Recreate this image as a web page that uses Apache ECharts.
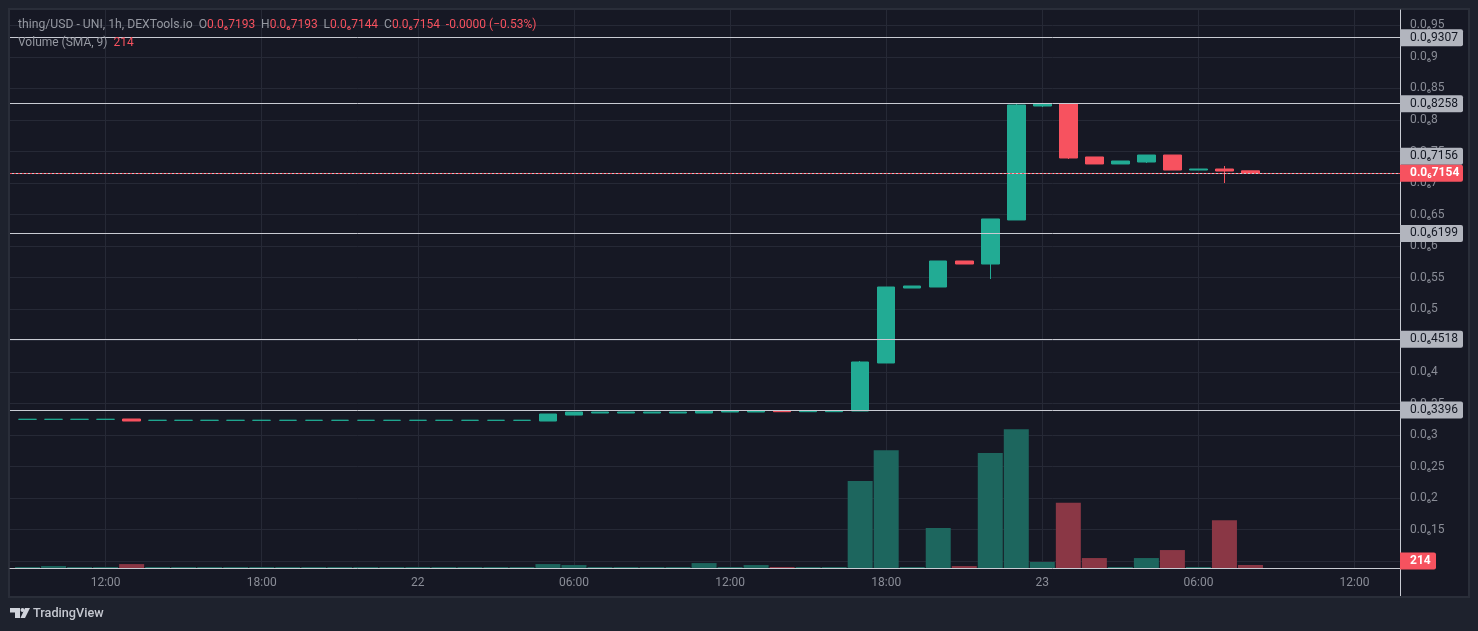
<!DOCTYPE html>
<html><head><meta charset="utf-8">
<style>html,body{margin:0;padding:0;background:#1e222d;overflow:hidden}#c{width:1478px;height:631px}</style>
<script src="https://cdn.jsdelivr.net/npm/echarts@6/dist/echarts.min.js"></script>
</head><body><div id="c"></div>
<script>
// Hours counted from 21st 00:00
const hours = [9,10,11,12,13,14,15,16,17,18,19,20,21,22,23,24,25,26,27,28,29,30,31,32,33,34,35,36,37,38,39,40,41,42,43,44,45,46,47,48,49,50,51,52,53,54,55,56];
const opens = [.3249,.3249,.3249,.3249,.3254,.3233,.3233,.3233,.3233,.3233,.3233,.3233,.3233,.3233,.3233,.3233,.3233,.3233,.3233,.3233,.3222,.3317,.3349,.3349,.3349,.3349,.3349,.3365,.3365,.3384,.3370,.3370,.3381,.4143,.5333,.5349,.5762,.5714,.6413,.8222,.8262,.7413,.7302,.7333,.7444,.7206,.7222,.7193];
const closes = [.3249,.3249,.3249,.3249,.3222,.3233,.3233,.3233,.3233,.3233,.3233,.3233,.3233,.3233,.3233,.3233,.3233,.3233,.3233,.3233,.3333,.3365,.3365,.3365,.3365,.3365,.3381,.3381,.3384,.3370,.3384,.3384,.4159,.5349,.5365,.5762,.5714,.6429,.8238,.8262,.7397,.7302,.7349,.7444,.7206,.7222,.7190,.7154];
const lows = [.3249,.3249,.3249,.3249,.3222,.3233,.3233,.3233,.3233,.3233,.3233,.3233,.3233,.3233,.3233,.3233,.3233,.3233,.3233,.3233,.3222,.3317,.3349,.3349,.3349,.3349,.3349,.3365,.3365,.3370,.3370,.3370,.3381,.4143,.5333,.5349,.5714,.5476,.6413,.8206,.7381,.7302,.7302,.7317,.7206,.7206,.7000,.7144];
const highs = [.3249,.3249,.3249,.3249,.3254,.3233,.3233,.3233,.3233,.3233,.3233,.3233,.3233,.3233,.3233,.3233,.3233,.3233,.3233,.3233,.3333,.3365,.3365,.3365,.3365,.3365,.3381,.3381,.3384,.3384,.3384,.3384,.4175,.5349,.5365,.5762,.5762,.6429,.8265,.8262,.8262,.7413,.7349,.7444,.7444,.7222,.7270,.7193];
const volumes = [70,140,70,70,280,70,70,70,70,70,70,70,70,70,70,70,70,70,70,70,280,210,70,70,70,70,350,70,210,70,70,70,6200,8400,70,2850,140,8200,9900,430,4650,710,70,710,1280,70,3400,214];
const levelValues = [0.9307,0.8258,0.7156,0.6199,0.4518,0.3396];
const levelLabels = ['0.0₆9307','0.0₆8258','0.0₆7156','0.0₆6199','0.0₆4518','0.0₆3396'];
const lastPrice = 0.7154;
const lastPriceLabel = '0.0₆7154';
const lastVolume = 214;
const priceTicks = [0.1,0.15,0.2,0.25,0.3,0.35,0.4,0.45,0.5,0.55,0.6,0.65,0.7,0.75,0.8,0.85,0.9,0.95];
const priceTickLabels = {0.15:'0.0₆15',0.2:'0.0₆2',0.25:'0.0₆25',0.3:'0.0₆3',0.35:'0.0₆35',0.4:'0.0₆4',0.45:'0.0₆45',0.5:'0.0₆5',0.55:'0.0₆55',0.6:'0.0₆6',0.65:'0.0₆65',0.7:'0.0₆7',0.75:'0.0₆75',0.8:'0.0₆8',0.85:'0.0₆85',0.9:'0.0₆9',0.95:'0.0₆95'};
const timeTicks = [12,18,24,30,36,42,48,54,60];
const timeTickLabels = ['12:00','18:00','22','06:00','12:00','18:00','23','06:00','12:00'];

const FONT = 'Roboto, sans-serif';
const UP='#22ab94', DOWN='#f7525f', UPV='#1d665e', DOWNV='#8a3745';
const GREY='#8a8d97', LINE='#c9cbd3', GRID='#262936';
const chart = echarts.init(document.getElementById('c'), null, {renderer:'canvas'});

const tag = (text, bg, fg, off, w) => ({
  show:true, position:'end', distance:0, formatter:text, color:fg, backgroundColor:bg,
  fontFamily:FONT, fontSize:12, width:w, height:14, lineHeight:14, align:'left', verticalAlign:'middle',
  padding:[3,0,0,10], borderRadius:[0,2,2,0], offset:[0,off], fontWeight:'normal'
});
const levelLines = levelValues.map((v,i)=>({
  yAxis:v, lineStyle:{color:LINE,width:1,type:'solid'},
  label:tag(levelLabels[i],'#b2b5be','#131722', v===0.7156?-17:0, 53)
}));
levelLines.push({
  yAxis:lastPrice, lineStyle:{color:DOWN,width:1,type:[2,2]},
  label:Object.assign(tag(lastPriceLabel,DOWN,'#ffffff',0,53),{fontWeight:'bold'})
});
const headLead = {color:'#9598a1',fontSize:12.2,fontFamily:FONT,fontWeight:'normal'};
const headStyle = {color:'#9598a1',fontSize:12,fontFamily:FONT,fontWeight:'normal'};
const headRed = {color:DOWN,fontSize:12,fontFamily:FONT,fontWeight:'normal'};

chart.setOption({
  animation:false,
  backgroundColor:'#1e222d',
  title:[
    {left:18,top:19,padding:0,text:'{l|thing/USD - UNI, 1h, DEXTools.io  O}{r|0.0₆7193}{g|  H}{r|0.0₆7193}{g|  L}{r|0.0₆7144}{g|  C}{r|0.0₆7154}{r|  -0.0000 (−0.53%)}',
      textStyle:{fontWeight:'normal',rich:{l:headLead,g:headStyle,r:headRed}}},
    {left:18,top:37,padding:0,text:'{g|Volume (SMA, 9)  }{r|214}',
      textStyle:{fontWeight:'normal',rich:{g:headStyle,r:headRed}}}
  ],
  graphic:[
    {type:'rect',z:-10,silent:true,shape:{x:9,y:9,width:1460,height:588},style:{fill:'#161824',stroke:'#2a2e39',lineWidth:2}},
    {type:'line',z:5,silent:true,shape:{x1:1400.5,y1:568,x2:1400.5,y2:596},style:{stroke:LINE,lineWidth:1}},
    {type:'polygon',z:5,silent:true,shape:{points:[[10,608],[20,608],[20,618],[15,618],[15,612.5],[10,612.5]]},style:{fill:'#d1d4dc'}},
    {type:'circle',z:5,silent:true,shape:{cx:22.5,cy:610,r:2},style:{fill:'#d1d4dc'}},
    {type:'polygon',z:5,silent:true,shape:{points:[[25,608],[30,608],[25,618],[20.5,618]]},style:{fill:'#d1d4dc'}},
    {type:'text',z:5,silent:true,left:33,top:607,style:{text:'TradingView',fill:'#c5c8d0',font:'500 12.7px '+FONT}}
  ],
  grid:{left:10,top:10,right:78,bottom:63,containLabel:false},
  xAxis:{
    type:'value', min:8.325, max:61.747, scale:true,
    axisLine:{show:true,onZero:false,lineStyle:{color:LINE,width:1}},
    axisTick:{show:false,customValues:timeTicks},
    axisLabel:{show:true,customValues:timeTicks,color:GREY,fontFamily:FONT,fontSize:12,margin:9,showMinLabel:true,showMaxLabel:true,
      formatter:v=>timeTickLabels[timeTicks.indexOf(v)]||''},
    splitLine:{show:true,lineStyle:{color:GRID,width:1}}
  },
  yAxis:[{
    type:'value', position:'right', min:0.0889, max:0.9746, scale:true,
    axisLine:{show:true,onZero:false,lineStyle:{color:LINE,width:1}},
    axisTick:{show:false,customValues:priceTicks},
    axisLabel:{show:true,customValues:priceTicks,color:GREY,fontFamily:FONT,fontSize:12,margin:10,padding:[4,0,0,0],
      formatter:v=>priceTickLabels[+v.toFixed(2)]||''},
    splitLine:{show:true,lineStyle:{color:GRID,width:1}}
  },{
    type:'value', show:false, min:0, max:39800, splitLine:{show:false}
  }],
  series:[{
    type:'bar', xAxisIndex:0, yAxisIndex:1, barWidth:25, z:1,
    data:hours.map((h,i)=>({value:[h,volumes[i]],itemStyle:{color:closes[i]>=opens[i]?UPV:DOWNV}})),
    markLine:{silent:true,symbol:'none',animation:false,
      data:[{yAxis:lastVolume,lineStyle:{width:0,color:'transparent'},
        label:Object.assign(tag(String(lastVolume),DOWN,'#ffffff',-4,26),{fontWeight:'bold'})}]}
  },{
    type:'candlestick', xAxisIndex:0, yAxisIndex:0, barWidth:18, z:3,
    itemStyle:{color:UP,color0:DOWN,borderColor:UP,borderColor0:DOWN,borderWidth:1},
    data:hours.map((h,i)=>[h,opens[i],closes[i],lows[i],highs[i]]),
    markLine:{silent:true,symbol:'none',animation:false,precision:4,data:levelLines}
  }]
});
</script></body></html>
